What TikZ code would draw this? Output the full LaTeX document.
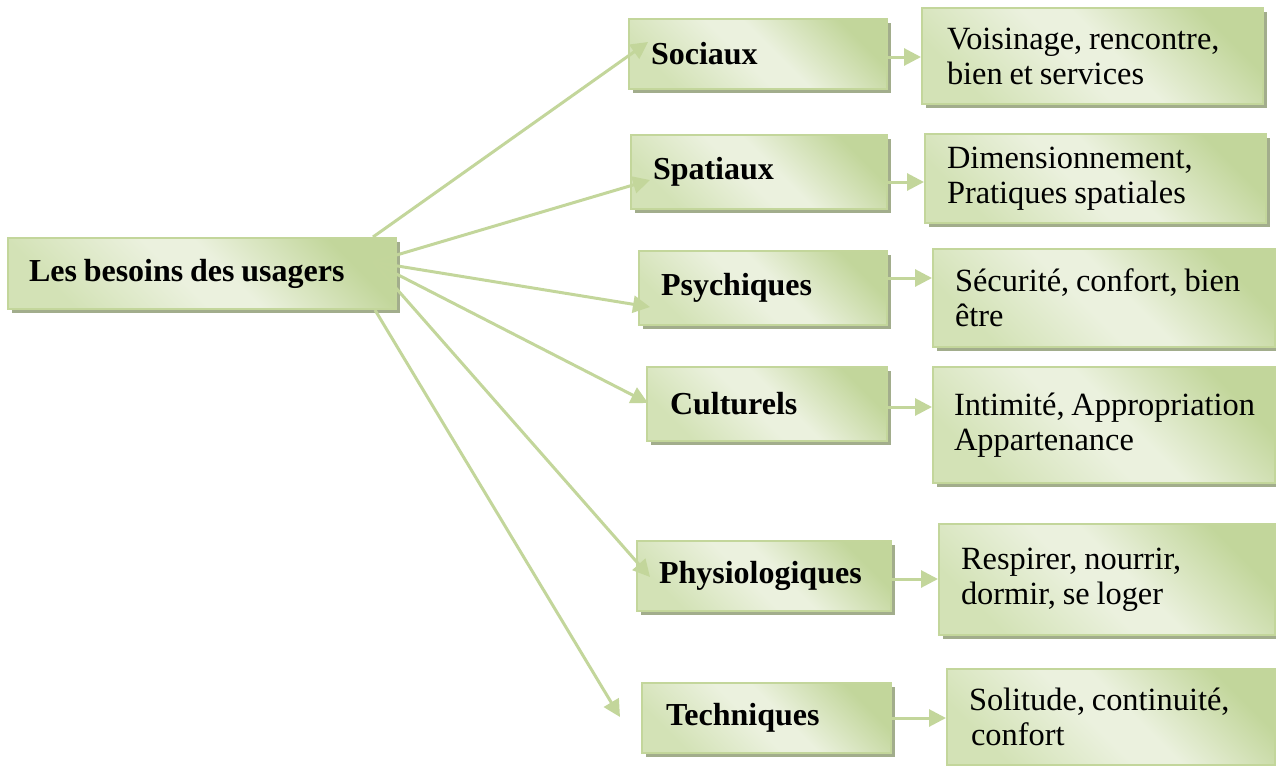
\documentclass[tikz,border=0pt]{standalone}
\usepackage{fontspec}
\setmainfont{Liberation Serif}
\usetikzlibrary{arrows.meta,shadows}

\definecolor{gline}{HTML}{C3D69B}
\definecolor{gdark}{HTML}{C2D69B}
\definecolor{gmid}{HTML}{D3E2B6}
\definecolor{glight}{HTML}{EBF1DE}
\definecolor{gshadow}{HTML}{A2AD8C}

% diagonal green fill: darker corners, light band across the middle
\pgfdeclareverticalshading{leafshade}{100bp}{color(0bp)=(gmid); color(25bp)=(gmid); color(46bp)=(glight); color(54bp)=(glight); color(75bp)=(gdark); color(100bp)=(gdark)}

\tikzset{
  box/.style={draw=gline, line width=1pt, shading=leafshade, shade, shading angle=-45,
    drop shadow={shadow xshift=2pt, shadow yshift=-2pt, fill=gshadow, opacity=1},
    anchor=north west, align=left, inner ysep=0pt,
    execute at begin node={\hbadness=10000 \hfuzz=30pt \spaceskip=3.4pt},
    font=\fontsize{16.2}{17.5}\selectfont},
  need/.style={box, font=\fontsize{16}{18}\selectfont\bfseries},
  arr/.style={draw=gline, line width=1.5pt, -{Triangle[length=8.5pt,width=8.5pt]}}
}

\begin{document}
\begin{tikzpicture}[x=0.5pt,y=-0.5pt]
\useasboundingbox (0,0) rectangle (1276,766);

% main box
\node[need, minimum width=194pt, minimum height=35.5pt, text width=173pt, inner xsep=10.5pt]
  (main) at (7,237) {Les besoins des usagers};

% categories of needs
\node[need, minimum width=129pt, minimum height=35pt, text width=107pt, inner xsep=11pt]
  (soc) at (628,18) {Sociaux};
\node[need, minimum width=128pt, minimum height=37pt, text width=106pt, inner xsep=11pt]
  (spa) at (630,134) {Spatiaux};
\node[need, minimum width=124pt, minimum height=37pt, text width=102pt, inner xsep=11pt]
  (psy) at (638,250) {Psychiques};
\node[need, minimum width=120pt, minimum height=37pt, text width=97pt, inner xsep=11.5pt]
  (cul) at (646,366) {Culturels};
\node[need, minimum width=127pt, minimum height=35pt, text width=105pt, inner xsep=11pt]
  (phy) at (636,540) {Physiologiques};
\node[need, minimum width=124.5pt, minimum height=35pt, text width=100.5pt, inner xsep=12pt]
  (tec) at (641,682) {Techniques};

% details of each category (each line kept whole)
\node[box, minimum width=170.5pt, minimum height=48pt, text width=145.5pt, inner xsep=12.5pt]
  (r1) at (921,7) {\mbox{Voisinage, rencontre,}\\\mbox{bien et services}};
\node[box, minimum width=170.5pt, minimum height=44.5pt, text width=148.5pt, inner xsep=11pt]
  (r2) at (924,133) {\mbox{Dimensionnement,}\\\mbox{Pratiques spatiales}};
\node[box, minimum width=171pt, minimum height=49pt, text width=149pt, inner xsep=11pt]
  (r3) at (932,248) {\mbox{Sécurité, confort, bien}\\\mbox{être}};
\node[box, minimum width=171pt, minimum height=58pt, text width=150pt, inner xsep=10.5pt]
  (r4) at (932,366) {\mbox{Intimité, Appropriation}\\\mbox{Appartenance}};
\node[box, minimum width=168pt, minimum height=55.5pt, text width=146pt, inner xsep=11pt]
  (r5) at (938,523) {\mbox{Respirer, nourrir,}\\\mbox{dormir, se loger}};
\node[box, minimum width=164pt, minimum height=48pt, text width=142pt, inner xsep=11pt]
  (r6) at (946,668) {\mbox{Solitude, continuité,}\\\mbox{\hspace{1pt}confort}};

% fan of arrows from the main box
\coordinate (hub) at (373,262);
\coordinate (sSoc) at (373,237);
\coordinate (sTec) at (375,310);
\coordinate (tSoc) at (648,42);
\coordinate (tSpa) at (650,180);
\coordinate (tPsy) at (650,307);
\coordinate (tCul) at (648,403);
\coordinate (tPhy) at (650,577);
\coordinate (tTec) at (620,717);
\draw[arr] (sSoc) -- (tSoc);
\draw[arr] (hub) -- (tSpa);
\draw[arr] (hub) -- (tPsy);
\draw[arr] (hub) -- (tCul);
\draw[arr] (hub) -- (tPhy);
\draw[arr] (sTec) -- (tTec);

% arrows from each category to its details
\draw[arr] ([yshift=-1.5pt]soc.east) -- ([yshift=-1.5pt]soc.east -| r1.west);
\draw[arr] ([yshift=-5pt]spa.east) -- ([yshift=-5pt]spa.east -| r2.west);
\draw[arr] ([yshift=5pt]psy.east) -- ([yshift=5pt]psy.east -| r3.west);
\draw[arr] ([yshift=-1.5pt]cul.east) -- ([yshift=-1.5pt]cul.east -| r4.west);
\draw[arr] ([yshift=-1.5pt]phy.east) -- ([yshift=-1.5pt]phy.east -| r5.west);
\draw[arr] (tec.east) -- (tec.east -| r6.west);
\end{tikzpicture}
\end{document}
